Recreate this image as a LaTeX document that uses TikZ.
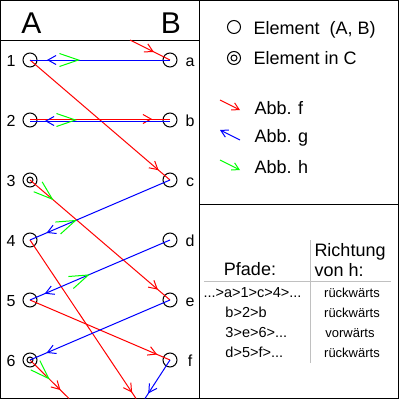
\documentclass[tikz,border=0pt]{standalone}
\usepackage{fontspec}
\setmainfont{Liberation Sans}
\usetikzlibrary{arrows.meta,decorations.markings}
\definecolor{pgreen}{RGB}{0,255,0}
\definecolor{pred}{RGB}{255,0,0}
\definecolor{pblue}{RGB}{0,0,255}
\definecolor{pgray}{RGB}{192,192,192}
\begin{document}
\begin{tikzpicture}[x=1pt,y=-1pt,line width=1pt,
  elem/.style={circle,draw=black,line width=1pt,minimum size=14pt,inner sep=0pt},
  lelem/.style={elem,minimum size=13pt},
  lbl/.style={inner sep=0pt,anchor=base,font=\fontsize{16}{16}\selectfont},
  head/.style={inner sep=0pt,anchor=base,font=\fontsize{30}{30}\selectfont},
  legtext/.style={inner sep=0pt,anchor=base west,font=\fontsize{18}{18}\selectfont},
  tabhead/.style={inner sep=0pt,font=\fontsize{18}{18}\selectfont},
  pathtext/.style={inner sep=0pt,anchor=base west,font=\fontsize{14.5}{14.5}\selectfont},
  dirtext/.style={inner sep=0pt,anchor=base,font=\fontsize{13}{13}\selectfont},
  tipat/.style={postaction={decorate,decoration={markings,mark=at position #1 with {\arrow{Straight Barb[length=8pt,width=9pt,line width=1pt]}}}}},
  hat/.style={postaction={decorate,decoration={markings,mark=at position #1 with {\arrow[pgreen]{Straight Barb[length=19pt,width=13pt,line width=1pt]}}}}},
  fmap/.style={draw=pred,color=pred},
  gmap/.style={draw=pblue,color=pblue},
  hmap/.style={draw=pgreen,color=pgreen},
  legarrow/.style={-{Straight Barb[length=7pt,width=8pt,line width=1pt]}},
]
\useasboundingbox (0,0) rectangle (400,400);
% frame
\draw (0.5,0.5) rectangle (398.5,398.5);
\draw (199.5,0.5) -- (199.5,398.5);
\draw (0.5,40) -- (199.5,40);
\draw (199.5,204.5) -- (398.5,204.5);

% headers
\node[head] (hA) at (31.5,33) {A};
\node[head] (hB) at (171,33) {B};

% elements
\node[elem] (n1) at (30,60) {};
\node[elem] (n2) at (30,120) {};
\node[elem] (n3) at (30,180) {};
\node[elem] (n4) at (30,240) {};
\node[elem] (n5) at (30,300) {};
\node[elem] (n6) at (30,360) {};
\draw (n3.center) circle[radius=3];
\draw (n6.center) circle[radius=3];
\node[elem] (na) at (170,60) {};
\node[elem] (nb) at (170,120) {};
\node[elem] (nc) at (170,180) {};
\node[elem] (nd) at (170,240) {};
\node[elem] (ne) at (170,300) {};
\node[elem] (nf) at (170,360) {};

% labels
\node[lbl] (l1) at (11,66) {1};
\node[lbl] (l2) at (11,126) {2};
\node[lbl] (l3) at (11,186) {3};
\node[lbl] (l4) at (11,246) {4};
\node[lbl] (l5) at (11,306) {5};
\node[lbl] (l6) at (11,366) {6};
\node[lbl] (la) at (190,66) {a};
\node[lbl] (lb) at (190,126) {b};
\node[lbl] (lc) at (190,186) {c};
\node[lbl] (ld) at (190,246) {d};
\node[lbl] (le) at (190,306) {e};
\node[lbl] (lf) at (190,366) {f};

% wrap coordinates
\coordinate (bot4) at (136,398.5);
\coordinate (top4) at (130,40);
\coordinate (bot6) at (69,398.5);
\coordinate (botf) at (145,398.5);

% f (red)
\draw[fmap,tipat=-15pt] (n1.center) -- (nc.center);
\draw[fmap,tipat=-18pt] ([yshift=1pt]n2.center) -- ([yshift=1pt]nb.center);
\draw[fmap,tipat=-16pt] (n3.center) -- (ne.center);
\draw[fmap,tipat=-7pt] (n4.center) -- (bot4);
\draw[fmap,tipat=-18pt] (top4) -- (na.center);
\draw[fmap,tipat=-14pt] (n5.center) -- (nf.center);
\draw[fmap,tipat=-12pt] (n6.center) -- (bot6);

% g (blue)
\draw[gmap,tipat=-17pt] (na.center) -- (n1.center);
\draw[gmap,tipat=-15pt] ([yshift=-1pt]nb.center) -- ([yshift=-1pt]n2.center);
\draw[gmap,tipat=-18pt] (nc.center) -- (n4.center);
\draw[gmap,tipat=-16pt] (nd.center) -- (n5.center);
\draw[gmap,tipat=-18pt] (ne.center) -- (n6.center);
\draw[gmap,tipat=-6pt] (nf.center) -- (botf);

% h (green arrowheads)
\path[hat=50pt] (n1.center) -- (na.center);
\path[hat=47pt] (n2.center) -- (nb.center);
\path[hat=31pt] (n3.center) -- (ne.center);
\path[hat=51pt] (n4.center) -- (nc.center);
\path[hat=65pt] (n5.center) -- (nd.center);
\path[hat=28pt] (n6.center) -- (bot6);

% legend
\node[lelem] (le1) at (234,27) {};
\node[lelem] (le2) at (234,58) {};
\draw (le2.center) circle[radius=3];
\node[legtext] (lt1) at (253,34) {Element~ (A, B)};
\node[legtext] (lt2) at (253,64) {Element in C};
\coordinate (fa) at (220,100); \coordinate (fb) at (240,110);
\coordinate (ga) at (240,140); \coordinate (gb) at (220,130);
\coordinate (ha) at (220,160); \coordinate (hb) at (240,170);
\draw[fmap,legarrow] (fa) -- (fb);
\draw[gmap,legarrow] (ga) -- (gb);
\draw[hmap,legarrow] (ha) -- (hb);
\node[legtext] (lt3) at (254,114) {Abb. f};
\node[legtext] (lt4) at (254,142) {Abb. g};
\node[legtext] (lt5) at (254,173) {Abb. h};

% table
\draw[pgray] (310,240) -- (310,363);
\draw[pgray] (204,281) -- (391,281);
\node[tabhead,anchor=base] (tp) at (250,275.5) {Pfade:};
\node[tabhead,anchor=base west] (tr1) at (314,256) {Richtung};
\node[tabhead,anchor=base west] (tr2) at (314,276) {von h:};
\node[pathtext] (p1) at (203,297) {...>a>1>c>4>...};
\node[pathtext] (p2) at (225,317) {b>2>b};
\node[pathtext] (p3) at (225,337) {3>e>6>...};
\node[pathtext] (p4) at (225,357) {d>5>f>...};
\node[dirtext] (d1) at (352,297) {rückwärts};
\node[dirtext] (d2) at (352,317) {rückwärts};
\node[dirtext] (d3) at (350,337) {vorwärts};
\node[dirtext] (d4) at (352,357) {rückwärts};
\end{tikzpicture}
\end{document}
